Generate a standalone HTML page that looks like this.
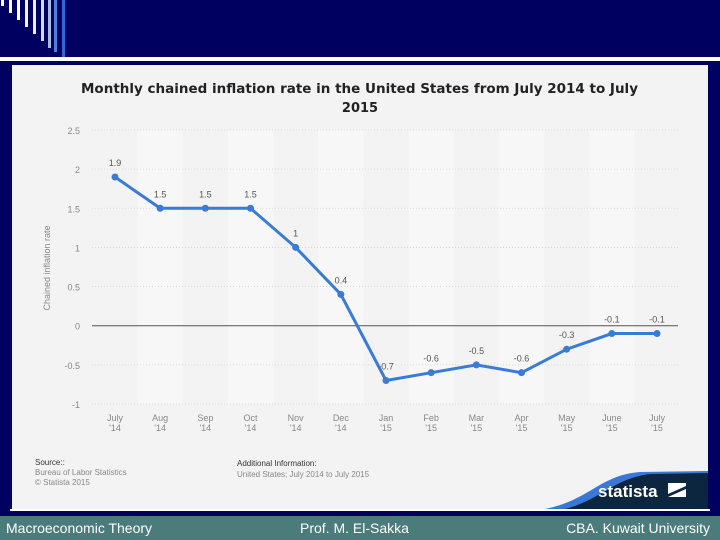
<!DOCTYPE html>
<html><head><meta charset="utf-8"><style>
html,body{margin:0;padding:0}
body{width:720px;height:540px;background:#000060;position:relative;overflow:hidden;font-family:"Liberation Sans",sans-serif}
</style></head><body>
<svg width="720" height="540" style="position:absolute;left:0;top:0">
  <g>
    <rect x="1" y="0" width="3" height="6" fill="#fff"/>
    <rect x="9" y="0" width="3" height="13" fill="#fff"/>
    <rect x="17" y="0" width="3" height="20" fill="#fff"/>
    <rect x="25" y="0" width="3" height="27" fill="#f4f4ea"/>
    <rect x="33" y="0" width="3" height="34" fill="#eef"/>
    <rect x="41" y="0" width="3" height="41" fill="#cde"/>
    <rect x="48" y="0" width="3" height="48" fill="#abd"/>
    <rect x="54" y="0" width="3" height="52" fill="#4a80e0"/>
    <rect x="62" y="0" width="3" height="61" fill="#2a6ad8"/>
  </g>
  <rect x="0" y="57" width="720" height="4" fill="#ffffff"/>
  <rect x="12" y="65" width="696" height="444" fill="#f3f3f3"/>
  <rect x="10" y="509" width="700" height="2" fill="#ffffff"/>
  <rect x="0" y="516" width="720" height="24" fill="#4b7b7b"/>
  <text x="6" y="533" font-size="14" fill="#fff">Macroeconomic Theory</text>
  <text x="300" y="533" font-size="14" fill="#fff">Prof. M. El-Sakka</text>
  <text x="710" y="533" font-size="14" fill="#fff" text-anchor="end">CBA. Kuwait University</text>

  <text x="81" y="93" font-size="13" font-weight="bold" fill="#222" font-family="DejaVu Sans, sans-serif" textLength="557" lengthAdjust="spacingAndGlyphs">Monthly chained inflation rate in the United States from July 2014 to July</text>
  <text x="360" y="112" font-size="13" font-weight="bold" fill="#222" font-family="DejaVu Sans, sans-serif" text-anchor="middle">2015</text>
  <text x="50" y="268" font-size="9" fill="#888" text-anchor="middle" transform="rotate(-90 50 268)">Chained inflation rate</text>
  <g id="bands"></g><g id="grid"></g><g id="axes"></g><g id="series"></g>

  <text x="35" y="465" font-size="8" fill="#333">Source::</text>
  <text x="35" y="475" font-size="8" fill="#888">Bureau of Labor Statistics</text>
  <text x="35" y="485" font-size="8" fill="#888">© Statista 2015</text>
  <text x="237" y="466" font-size="8" fill="#333">Additional Information:</text>
  <text x="237" y="477" font-size="8" fill="#888">United States; July 2014 to July 2015</text>

  <g>
    <path d="M545,509 C590,500 600,475 640,472 L708,471 L708,509 Z" fill="#3a78d8"/>
    <path d="M565,509 C600,500 615,478 650,474 L708,473 L708,509 Z" fill="#0d2640"/>
    <text x="598" y="497" font-size="17" font-weight="bold" fill="#fff">statista</text>
    <path d="M668,483 L686,483 L686,497 L668,497 Z" fill="#fff"/>
    <path d="M668,494 L686,486 L686,489 L668,497 Z" fill="#0d2640"/>
  </g>
</svg>
<script>
const categories=["July\n'14","Aug\n'14","Sep\n'14","Oct\n'14","Nov\n'14","Dec\n'14","Jan\n'15","Feb\n'15","Mar\n'15","Apr\n'15","May\n'15","June\n'15","July\n'15"];
const values=[1.9,1.5,1.5,1.5,1,0.4,-0.7,-0.6,-0.5,-0.6,-0.3,-0.1,-0.1];
const valueLabels=["1.9","1.5","1.5","1.5","1","0.4","-0.7","-0.6","-0.5","-0.6","-0.3","-0.1","-0.1"];
const yTicks=[2.5,2,1.5,1,0.5,0,-0.5,-1];
const yTickLabels=["2.5","2","1.5","1","0.5","0","-0.5","-1"];

const NS="http://www.w3.org/2000/svg";
const x0=115,x1=657,left=92,right=678;
const xs=i=>x0+(x1-x0)*i/(categories.length-1);
const ys=v=>130+(2.5-v)*(404-130)/3.5;
function mk(tag,attrs,parent,txt){const e=document.createElementNS(NS,tag);for(const k in attrs)e.setAttribute(k,attrs[k]);if(txt!==undefined)e.textContent=txt;document.getElementById(parent).appendChild(e);return e;}
const step=(x1-x0)/(categories.length-1);
categories.forEach((c,i)=>{if(i%2===1){const b=mk('rect',{x:xs(i)-step/2,y:ys(2.5),width:step,height:ys(-1)-ys(2.5),fill:'#f7f7f7'},'bands');

}});
yTicks.forEach((t,i)=>{const y=ys(t);
const l=mk('line',{x1:left,x2:right,y1:y,y2:y,stroke:t===0?'#555':'#d4d4d4','stroke-width':t===0?1:0.8,'stroke-dasharray':t===0?'':'1,2'},'grid');


const tx=mk('text',{x:80,y:y+4,'font-size':9,fill:'#888','text-anchor':'end'},'axes',yTickLabels[i]);

});
categories.forEach((c,i)=>{const p=c.split('\n');
const t=mk('text',{x:xs(i),y:421,'font-size':9,fill:'#888','text-anchor':'middle'},'axes');


p.forEach((s,j)=>{const ts=document.createElementNS(NS,'tspan');ts.setAttribute('x',xs(i));ts.setAttribute('dy',j?10:0);ts.textContent=s;t.appendChild(ts);});});
const line=mk('polyline',{points:values.map((v,i)=>xs(i)+','+ys(v)).join(' '),fill:'none',stroke:'#3a7bd5','stroke-width':3},'series');


values.forEach((v,i)=>{const c=mk('circle',{cx:xs(i),cy:ys(v),r:3.5,fill:'#3a7bd5'},'series');


const lb=mk('text',{x:xs(i),y:ys(v)-11,'font-size':9,fill:'#555','text-anchor':'middle'},'series',valueLabels[i]);

});
</script>
</body></html>
